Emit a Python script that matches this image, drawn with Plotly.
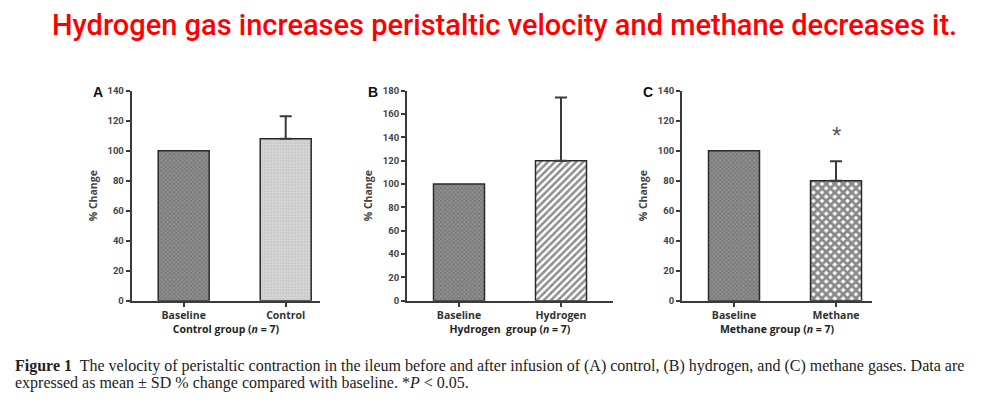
import plotly.graph_objects as go

W, H = 988, 402

# ---- data ----
cats_a = ["Baseline", "Control"]
vals_a = [100, 108]
err_a = [0, 15]

cats_b = ["Baseline", "Hydrogen"]
vals_b = [100, 120]
err_b = [0, 54]

cats_c = ["Baseline", "Methane"]
vals_c = [100, 80]
err_c = [0, 13]

yticks_a = [0, 20, 40, 60, 80, 100, 120, 140]
yticks_b = [0, 20, 40, 60, 80, 100, 120, 140, 160, 180]
yticks_c = [0, 20, 40, 60, 80, 100, 120, 140]

xtitles = ["Control group (<i>n</i> = 7)", "Hydrogen  group (<i>n</i> = 7)", "Methane group (<i>n</i> = 7)"]
letters = ["A", "B", "C"]
star_value = 110

title_text = "Hydrogen gas increases peristaltic velocity and methane decreases it."
caption1 = ("<b>Figure 1</b>  The velocity of peristaltic contraction in the ileum before and after infusion of (A) control, "
            "(B) hydrogen, and (C) methane gases. Data are")
caption2 = "expressed as mean ± SD % change compared with baseline. *<i>P</i> &lt; 0.05."

# ---- styling ----
baseline_pat = dict(shape="x", fgcolor="#444444", bgcolor="#8e8e8e", size=3, solidity=0.35)
patterns = [
    [baseline_pat, dict(shape=".", fgcolor="#a0a0a0", bgcolor="#dadada", size=3, solidity=0.4)],
    [baseline_pat, dict(shape="/", fgcolor="#1e1e1e", bgcolor="#ffffff", size=5, solidity=0.5)],
    [baseline_pat, dict(shape="x", fgcolor="#111111", bgcolor="#ffffff", size=6, solidity=0.72)],
]

fig = go.Figure()

panels = [
    (cats_a, vals_a, err_a, yticks_a, 140, (131.7, 320.0)),
    (cats_b, vals_b, err_b, yticks_b, 180, (407.0, 613.0)),
    (cats_c, vals_c, err_c, yticks_c, 140, (682.0, 872.0)),
]
y0px, ytop = 303.0, 87.0
ydom = [1 - y0px / H, 1 - ytop / H]
axc = "#3a3a3a"

for i, (cats, vals, errs, yt, ymax, (xl, xr)) in enumerate(panels):
    n = "" if i == 0 else str(i + 1)
    unit = 102.0
    left = -(52.0 / unit)
    right = left + (xr - xl) / unit
    for j in range(2):
        fig.add_trace(go.Bar(
            x=[cats[j]], y=[vals[j]],
            xaxis="x" + n, yaxis="y" + n,
            width=0.5,
            marker=dict(color=patterns[i][j]["bgcolor"], pattern=patterns[i][j],
                        line=dict(color="#2a2a2a", width=1.5)),
            error_y=dict(type="data", symmetric=False, array=[errs[j]], arrayminus=[0],
                         color="#3a3a3a", thickness=2, width=6, visible=errs[j] > 0),
            showlegend=False,
        ))
    fig.layout["xaxis" + n] = dict(
        domain=[xl / W, xr / W], anchor="y" + n, type="category",
        categoryorder="array", categoryarray=cats,
        range=[left, right], showline=True, linecolor=axc, linewidth=2,
        ticks="outside", ticklen=4, tickwidth=1.5, tickcolor=axc,
        tickfont=dict(family="Open Sans", size=10.5, color="#333333", weight="bold"),
        title=dict(text="<b>" + xtitles[i] + "</b>", font=dict(family="Open Sans", size=10.5, color="#222222"),
                   standoff=1),
        showgrid=False, zeroline=False, fixedrange=True,
    )
    fig.layout["yaxis" + n] = dict(
        domain=ydom, anchor="x" + n, range=[0, ymax],
        tickvals=yt, showline=True, linecolor=axc, linewidth=2,
        ticks="outside", ticklen=4, tickwidth=1.5, tickcolor=axc,
        tickfont=dict(family="Liberation Sans Narrow, Roboto", size=9.5, color="#444444", weight="bold"),
        title=dict(text="<b>% Change</b>", font=dict(family="Open Sans", size=10.5, color="#444444"), standoff=8),
        showgrid=False, zeroline=False, fixedrange=True,
    )
    fig.add_annotation(text="<b>" + letters[i] + "</b>", xref="paper", yref="paper",
                       x=(xl - 34) / W, y=1 - 88 / H, xanchor="center", yanchor="middle", showarrow=False,
                       font=dict(family="Liberation Sans, Arial", size=14, color="#111111"))

fig.add_annotation(text="*", x=cats_c[1], y=star_value, xref="x3", yref="y3", showarrow=False,
                   font=dict(family="Liberation Sans", size=24, color="#555555"), yanchor="middle")

fig.add_annotation(text=title_text, xref="paper", yref="paper", x=505 / W, y=1 - 20 / H,
                   xanchor="center", yanchor="middle", showarrow=False,
                   font=dict(family="Roboto", size=29, color="#ff0000", weight=500))
fig.add_annotation(text=caption1, xref="paper", yref="paper", x=13 / W, y=1 - 370 / H,
                   xanchor="left", yanchor="middle", showarrow=False,
                   font=dict(family="Liberation Serif", size=16, color="#222222"))
fig.add_annotation(text=caption2, xref="paper", yref="paper", x=13 / W, y=1 - 388 / H,
                   xanchor="left", yanchor="middle", showarrow=False,
                   font=dict(family="Liberation Serif", size=16, color="#222222"))

fig.update_layout(width=W, height=H, margin=dict(l=0, r=0, t=0, b=0),
                  paper_bgcolor="white", plot_bgcolor="white", bargap=0.5)
fig.write_html("out.html", config={"displayModeBar": False},
               post_script="document.body.style.margin='0';document.body.style.padding='0';")
